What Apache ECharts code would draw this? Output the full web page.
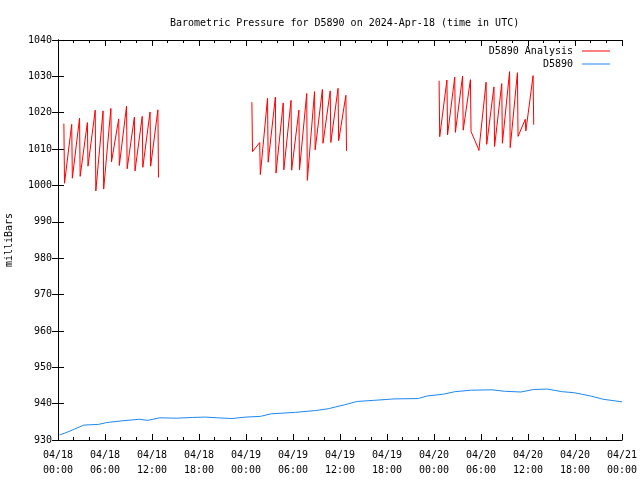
<!DOCTYPE html>
<html>
<head>
<meta charset="utf-8">
<script src="https://cdn.jsdelivr.net/npm/echarts@6/dist/echarts.min.js"></script>
<style>html,body{margin:0;padding:0;background:#fff}#c{width:640px;height:480px}</style>
</head>
<body>
<div id="c"></div>
<script>
// x values are hours since 2024-04-18 00:00 UTC
const xTickLabels = ['04/18\n00:00','04/18\n06:00','04/18\n12:00','04/18\n18:00','04/19\n00:00','04/19\n06:00','04/19\n12:00','04/19\n18:00','04/20\n00:00','04/20\n06:00','04/20\n12:00','04/20\n18:00','04/21\n00:00'];

// Analysis series: hourly saw-teeth (peak then sudden drop to low)
const seg1Start = 0.75;
const seg1Peaks = [1017, 1016.8, 1018.5, 1017.3, 1020.7, 1020.5, 1021.2, 1018.3, 1021.8, 1018.8, 1019, 1020.2, 1020.8];
const seg1Lows  = [1000.6, 1002, 1002.5, 1005.3, 998.5, 999, 1006.5, 1005.5, 1004.6, 1004, 1005, 1005.3, 1002.2];
const seg2Start = 24.75;
const seg2Peaks = [1022.9, 1011.8, 1024, 1024.3, 1022.7, 1023.4, 1020.7, 1025.3, 1025.8, 1026.4, 1026, 1026.7, 1024.8];
const seg2Lows  = [1009.3, 1003, 1006.4, 1003.4, 1004.3, 1004.2, 1004.3, 1001.4, 1009.8, 1011.6, 1011.8, 1012.3, 1009.5];
const seg3Start = 48.65;
const seg3Peaks = [1028.8, 1029, 1029.8, 1030.1, 1029.1, 1010.2, 1028.4, 1027.1, 1028, 1031.3, 1031, 1018.2, 1030.2];
const seg3Lows  = [1013.4, 1013.9, 1014.6, 1015.2, 1014.8, 1009.6, 1011.3, 1010.7, 1011.6, 1010.4, 1013.5, 1015, 1016.7];

// Station series
const stnHours  = [0.2, 1.0, 2.0, 3.3, 5.2, 6.2, 8.3, 10.4, 11.45, 13.0, 15.1, 17.2, 18.8, 20.35, 22.2, 24.0, 25.85, 27.2, 30.3, 32.9, 34.5, 36.6, 38.2, 40.3, 42.9, 46.0, 47.1, 49.2, 50.7, 52.8, 55.4, 57.0, 59.1, 60.7, 62.5, 64.3, 65.9, 68.0, 69.6, 72.0];
const stnValues = [931.4, 932.0, 932.9, 934.1, 934.3, 934.8, 935.3, 935.7, 935.4, 936.1, 936.0, 936.2, 936.3, 936.1, 935.9, 936.3, 936.5, 937.2, 937.6, 938.1, 938.6, 939.7, 940.6, 940.9, 941.3, 941.4, 942.1, 942.6, 943.3, 943.7, 943.8, 943.4, 943.2, 943.9, 944.0, 943.3, 943.0, 942.1, 941.2, 940.5];

function teeth(start, peaks, lows) {
  const out = [];
  for (let i = 0; i < peaks.length; i++) {
    out.push([start + i, peaks[i]]);
    out.push([start + i + 0.08, lows[i]]);
  }
  return out;
}
const analysisData = [].concat(
  teeth(seg1Start, seg1Peaks, seg1Lows), [[null, null]],
  teeth(seg2Start, seg2Peaks, seg2Lows), [[null, null]],
  teeth(seg3Start, seg3Peaks, seg3Lows)
);
const stnData = stnHours.map((h, i) => [h, stnValues[i]]);

const font = 'DejaVu Sans Mono';
const chart = echarts.init(document.getElementById('c'));
const axisLine = {show: true, lineStyle: {color: '#000', width: 1}};
const tick = {show: true, inside: true, length: 6, lineStyle: {color: '#000'}};
chart.setOption({
  animation: false,
  backgroundColor: '#fff',
  textStyle: {fontFamily: font},
  title: {
    text: 'Barometric Pressure for D5890 on 2024-Apr-18 (time in UTC)',
    left: 165, top: 13,
    textStyle: {fontFamily: font, fontSize: 10, fontWeight: 'normal', color: '#000'}
  },
  legend: {
    orient: 'vertical', right: 25, top: 41, align: 'right',
    itemWidth: 28, itemHeight: 1, itemGap: 3, icon: 'rect',
    textStyle: {fontFamily: font, fontSize: 10, color: '#000', padding: [0, 4, 0, 0]},
    data: ['D5890 Analysis', 'D5890']
  },
  grid: {left: 58, right: 18, top: 40, bottom: 40, outerBoundsMode: 'none', containLabel: false},
  xAxis: [{
    type: 'value', min: 0, max: 72, interval: 6,
    axisLine: axisLine, axisTick: tick,
    minorTick: {show: true, splitNumber: 3, length: 3, lineStyle: {color: '#000'}},
    splitLine: {show: false},
    axisLabel: {fontFamily: font, fontSize: 10, color: '#000', lineHeight: 15, margin: 8,
      formatter: v => xTickLabels[Math.round(v / 6)]}
  }, {
    type: 'value', min: 0, max: 72, interval: 6, position: 'top',
    axisLine: axisLine, axisTick: tick,
    minorTick: {show: true, splitNumber: 3, length: 3, lineStyle: {color: '#000'}},
    splitLine: {show: false}, axisLabel: {show: false}
  }],
  yAxis: [{
    type: 'value', min: 930, max: 1040, interval: 10,
    name: 'milliBars', nameLocation: 'middle', nameGap: 44, nameRotate: 90,
    nameTextStyle: {fontFamily: font, fontSize: 10, color: '#000'},
    axisLine: axisLine, axisTick: tick,
    splitLine: {show: false},
    axisLabel: {fontFamily: font, fontSize: 10, color: '#000', margin: 6, formatter: v => String(v)}
  }, {
    type: 'value', min: 930, max: 1040, interval: 10, position: 'right',
    axisLine: axisLine, axisTick: tick,
    splitLine: {show: false}, axisLabel: {show: false}
  }],
  series: [{
    name: 'D5890 Analysis', type: 'line', data: analysisData,
    showSymbol: false, symbol: 'none', connectNulls: false,
    lineStyle: {color: '#ff0000', width: 1}, itemStyle: {color: '#ff0000'}
  }, {
    name: 'D5890', type: 'line', data: stnData,
    showSymbol: false, symbol: 'none',
    lineStyle: {color: '#1e88f0', width: 1}, itemStyle: {color: '#1e88f0'}
  }]
});
</script>
</body>
</html>
